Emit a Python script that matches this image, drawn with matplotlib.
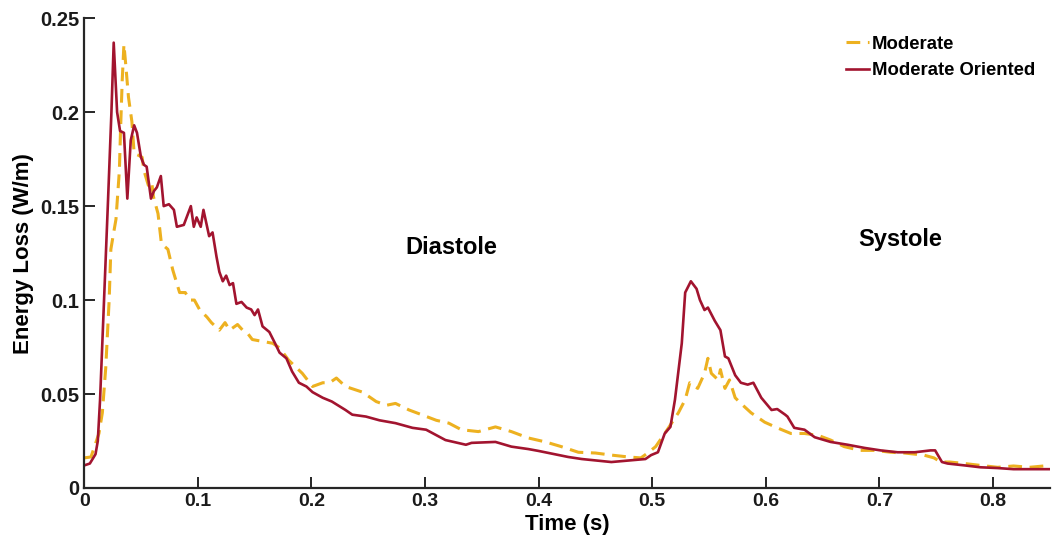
import matplotlib
matplotlib.use("Agg")
import matplotlib.pyplot as plt

plt.rcParams['font.family'] = ['Liberation Sans', 'DejaVu Sans']
plt.rcParams['font.weight'] = 'bold'

# Moderate Oriented (solid red)
t_oriented = [0.000, 0.005, 0.010, 0.012, 0.014, 0.0175, 0.021, 0.024, 0.026, 0.029,
              0.0316, 0.035, 0.038, 0.041, 0.044, 0.0465, 0.050, 0.0526, 0.055, 0.0588,
              0.0614, 0.064, 0.0675, 0.070, 0.0746, 0.079, 0.0816, 0.0877, 0.0939, 0.0965,
              0.099, 0.1026, 0.105, 0.110, 0.113, 0.1165, 0.119, 0.122, 0.125, 0.128,
              0.131, 0.134, 0.1385, 0.143, 0.147, 0.150, 0.153, 0.157, 0.163, 0.168,
              0.172, 0.178, 0.183, 0.189, 0.1956, 0.201, 0.210, 0.218, 0.230, 0.236,
              0.248, 0.260, 0.274, 0.289, 0.301, 0.318, 0.336, 0.341, 0.362, 0.376,
              0.391, 0.400, 0.426, 0.438, 0.464, 0.494, 0.499, 0.505, 0.511, 0.516,
              0.520, 0.526, 0.529, 0.534, 0.539, 0.542, 0.546, 0.549, 0.555, 0.560,
              0.564, 0.567, 0.573, 0.578, 0.584, 0.589, 0.596, 0.605, 0.610, 0.617,
              0.619, 0.625, 0.634, 0.643, 0.657, 0.672, 0.687, 0.701, 0.716, 0.731,
              0.745, 0.749, 0.755, 0.760, 0.775, 0.789, 0.804, 0.818, 0.832, 0.850]
e_oriented = [0.012, 0.013, 0.018, 0.025, 0.047, 0.100, 0.153, 0.200, 0.237, 0.200,
              0.190, 0.189, 0.154, 0.185, 0.193, 0.189, 0.176, 0.172, 0.171, 0.154,
              0.158, 0.160, 0.166, 0.150, 0.151, 0.148, 0.139, 0.140, 0.150, 0.139,
              0.144, 0.139, 0.148, 0.134, 0.136, 0.123, 0.115, 0.110, 0.113, 0.108,
              0.109, 0.098, 0.099, 0.096, 0.095, 0.092, 0.095, 0.086, 0.083, 0.077,
              0.072, 0.069, 0.062, 0.056, 0.054, 0.051, 0.048, 0.046, 0.0415, 0.039,
              0.038, 0.036, 0.0345, 0.032, 0.031, 0.0255, 0.023, 0.024, 0.0245, 0.022,
              0.0207, 0.0197, 0.0165, 0.0154, 0.0138, 0.0154, 0.0175, 0.019, 0.029, 0.0325,
              0.047, 0.077, 0.104, 0.110, 0.106, 0.100, 0.0947, 0.096, 0.089, 0.084,
              0.070, 0.069, 0.060, 0.056, 0.055, 0.056, 0.048, 0.0415, 0.042, 0.039,
              0.038, 0.032, 0.031, 0.027, 0.0245, 0.023, 0.0213, 0.020, 0.019, 0.019,
              0.020, 0.020, 0.0138, 0.013, 0.012, 0.011, 0.0106, 0.010, 0.010, 0.010]

# Moderate (dashed yellow)
t_moderate = [0.000, 0.006, 0.013, 0.016, 0.019, 0.022, 0.0235, 0.026, 0.028, 0.031,
              0.032, 0.0335, 0.035, 0.0365, 0.039, 0.042, 0.044, 0.048, 0.051, 0.0526,
              0.057, 0.0596, 0.061, 0.065, 0.068, 0.0737, 0.078, 0.084, 0.089, 0.093,
              0.097, 0.1018, 0.108, 0.112, 0.119, 0.124, 0.128, 0.135, 0.1395, 0.143,
              0.148, 0.157, 0.166, 0.172, 0.180, 0.192, 0.201, 0.210, 0.216, 0.222,
              0.230, 0.245, 0.257, 0.266, 0.274, 0.286, 0.297, 0.310, 0.321, 0.332,
              0.347, 0.362, 0.376, 0.391, 0.406, 0.420, 0.435, 0.450, 0.464, 0.479,
              0.490, 0.496, 0.503, 0.511, 0.517, 0.523, 0.529, 0.533, 0.540, 0.546,
              0.549, 0.552, 0.558, 0.560, 0.564, 0.568, 0.573, 0.578, 0.587, 0.599,
              0.610, 0.622, 0.634, 0.646, 0.657, 0.669, 0.683, 0.696, 0.710, 0.722,
              0.739, 0.748, 0.754, 0.762, 0.775, 0.789, 0.804, 0.818, 0.832, 0.850]
e_moderate = [0.016, 0.0165, 0.029, 0.040, 0.064, 0.100, 0.127, 0.136, 0.143, 0.169,
              0.190, 0.217, 0.236, 0.226, 0.208, 0.195, 0.178, 0.177, 0.176, 0.169,
              0.160, 0.162, 0.155, 0.146, 0.130, 0.127, 0.116, 0.104, 0.104, 0.100,
              0.100, 0.0947, 0.091, 0.088, 0.084, 0.088, 0.084, 0.087, 0.084, 0.083,
              0.079, 0.078, 0.077, 0.0745, 0.068, 0.061, 0.054, 0.056, 0.056, 0.0585,
              0.054, 0.051, 0.046, 0.044, 0.045, 0.0415, 0.039, 0.036, 0.0345, 0.031,
              0.030, 0.0325, 0.030, 0.0266, 0.0245, 0.022, 0.019, 0.0186, 0.0175, 0.0165,
              0.016, 0.0186, 0.022, 0.029, 0.0345, 0.040, 0.047, 0.056, 0.053, 0.061,
              0.069, 0.061, 0.0575, 0.063, 0.053, 0.0575, 0.048, 0.045, 0.040, 0.035,
              0.032, 0.029, 0.029, 0.028, 0.0255, 0.022, 0.020, 0.020, 0.019, 0.0186,
              0.0175, 0.016, 0.0138, 0.0138, 0.013, 0.012, 0.011, 0.0117, 0.011, 0.012]

x_ticks = [0, 0.1, 0.2, 0.3, 0.4, 0.5, 0.6, 0.7, 0.8]
x_tick_labels = ['0', '0.1', '0.2', '0.3', '0.4', '0.5', '0.6', '0.7', '0.8']
y_ticks = [0, 0.05, 0.1, 0.15, 0.2, 0.25]
y_tick_labels = ['0', '0.05', '0.1', '0.15', '0.2', '0.25']

fig = plt.figure(figsize=(10.52, 5.52), dpi=100)
ax = fig.add_axes([0.080, 0.116, 0.918, 0.851])

ax.plot(t_moderate, e_moderate, color='#EDB120', linewidth=2.2,
        linestyle=(0, (4.5, 2.5)), label='Moderate')
ax.plot(t_oriented, e_oriented, color='#A2142F', linewidth=1.9,
        label='Moderate Oriented')

ax.set_xlim(0, 0.85)
ax.set_ylim(0, 0.25)
ax.set_xticks(x_ticks)
ax.set_xticklabels(x_tick_labels)
ax.set_yticks(y_ticks)
ax.set_yticklabels(y_tick_labels)

for side in ['top', 'right']:
    ax.spines[side].set_visible(False)
for side in ['left', 'bottom']:
    ax.spines[side].set_linewidth(1.6)
    ax.spines[side].set_color('#262626')

ax.tick_params(direction='in', length=8, width=1.4, colors='#262626',
               labelsize=14, labelcolor='#1a1a1a')
ax.tick_params(axis='y', labelsize=14.5)
ax.set_xlabel('Time (s)', fontsize=16, fontweight='bold', labelpad=3)
ax.set_ylabel('Energy Loss (W/m)', fontsize=16, fontweight='bold', labelpad=4)

ax.text(0.323, 0.128, 'Diastole', fontsize=17, fontweight='bold',
        ha='center', va='center')
ax.text(0.718, 0.132, 'Systole', fontsize=17, fontweight='bold',
        ha='center', va='center')

leg = ax.legend(loc='upper right', frameon=False, fontsize=13.3,
                handlelength=1.25, handletextpad=0.15, labelspacing=0.5,
                borderaxespad=0.0, bbox_to_anchor=(0.992, 0.978))
for txt in leg.get_texts():
    txt.set_fontweight('bold')

fig.savefig('out.png', dpi=100)
